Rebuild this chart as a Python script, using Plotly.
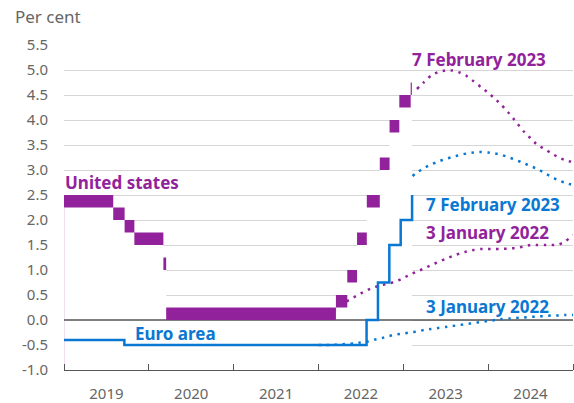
import plotly.graph_objects as go

# ---------------- data ----------------
# US federal funds target range (lower bound; range width 0.25), step changes
us_dates = ["2019-01-01", "2019-08-01", "2019-09-19", "2019-10-31", "2020-03-04",
            "2020-03-16", "2022-03-17", "2022-05-05", "2022-06-16", "2022-07-28",
            "2022-09-22", "2022-11-03", "2022-12-15", "2023-02-02", "2023-02-07"]
us_lower = [2.25, 2.00, 1.75, 1.50, 1.00, 0.00, 0.25, 0.75, 1.50, 2.25,
            3.00, 3.75, 4.25, 4.50, 4.50]
us_width = 0.25

# Euro area deposit rate, step changes
ea_dates = ["2019-01-01", "2019-09-18", "2022-07-27", "2022-09-14", "2022-11-02",
            "2022-12-21", "2023-02-08"]
ea_rate = [-0.40, -0.50, 0.00, 0.75, 1.50, 2.00, 2.50]

# Forward curves 7 February 2023
fwd23_dates = ["2023-03-01", "2023-04-01", "2023-05-01", "2023-06-01", "2023-07-01",
               "2023-08-01", "2023-09-01", "2023-10-01", "2023-11-01", "2023-12-01",
               "2024-01-01", "2024-02-01", "2024-03-01", "2024-04-01", "2024-05-01",
               "2024-06-01", "2024-07-01", "2024-08-01", "2024-09-01", "2024-10-01",
               "2024-11-01", "2024-12-01", "2025-01-01"]
us_fwd23 = [4.62, 4.76, 4.89, 4.96, 4.99, 4.99, 4.95, 4.88, 4.77, 4.66,
            4.55, 4.42, 4.29, 4.13, 3.96, 3.78, 3.64, 3.50, 3.42, 3.33,
            3.25, 3.19, 3.16]
ea_fwd23_dates = ["2023-02-10"] + fwd23_dates
ea_fwd23 = [2.88, 2.95, 3.04, 3.11, 3.17, 3.22, 3.26, 3.30, 3.33, 3.35, 3.36,
            3.35, 3.33, 3.30, 3.25, 3.20, 3.14, 3.08, 3.02, 2.94, 2.86,
            2.79, 2.74, 2.70]

# Forward curves 3 January 2022
fwd22_dates = ["2022-01-01", "2022-02-01", "2022-03-01", "2022-04-01", "2022-05-01",
               "2022-06-01", "2022-07-01", "2022-08-01", "2022-09-01", "2022-10-01",
               "2022-11-01", "2022-12-01", "2023-01-01", "2023-02-01", "2023-03-01",
               "2023-04-01", "2023-05-01", "2023-06-01", "2023-07-01", "2023-08-01",
               "2023-09-01", "2023-10-01", "2023-11-01", "2023-12-01", "2024-01-01",
               "2024-02-01", "2024-03-01", "2024-04-01", "2024-05-01", "2024-06-01",
               "2024-07-01", "2024-08-01", "2024-09-01", "2024-10-01", "2024-11-01",
               "2024-12-01", "2025-01-01"]
us_fwd22 = [0.10, 0.12, 0.17, 0.27, 0.37, 0.45, 0.53, 0.60, 0.66, 0.70,
            0.73, 0.77, 0.84, 0.91, 0.97, 1.03, 1.10, 1.16, 1.22, 1.28,
            1.33, 1.37, 1.40, 1.42, 1.42, 1.42, 1.42, 1.43, 1.44, 1.47,
            1.50, 1.50, 1.50, 1.50, 1.51, 1.58, 1.70]
ea_fwd22 = [-0.50, -0.50, -0.50, -0.49, -0.48, -0.47, -0.45, -0.43, -0.39, -0.36,
            -0.32, -0.29, -0.27, -0.25, -0.23, -0.20, -0.18, -0.16, -0.14, -0.12,
            -0.10, -0.08, -0.06, -0.04, -0.02, 0.00, 0.02, 0.03, 0.04, 0.05,
            0.06, 0.07, 0.08, 0.09, 0.09, 0.10, 0.10]

y_ticks = [-1.0, -0.5, 0.0, 0.5, 1.0, 1.5, 2.0, 2.5, 3.0, 3.5, 4.0, 4.5, 5.0, 5.5]
y_ticktext = ["-1.0", "-0.5", "0.0", "0.5", "1.0", "1.5", "2.0", "2.5", "3.0",
              "3.5", "4.0", "4.5", "5.0", "5.5"]
x_range = ["2019-01-01", "2025-01-01"]

# ---------------- styles ----------------
PURPLE = "#92229b"
BLUE = "#0a78d2"
GREY = "#666666"
FONT = "Noto Sans"
DOT = "2.5px,5.5px"

us_upper = [v + us_width for v in us_lower]
y_min = y_ticks[0]

fig = go.Figure()

# white mask below the US lower bound (hides gridlines as in original)
fig.add_trace(go.Scatter(x=us_dates, y=[y_min] * len(us_dates), mode="lines",
                         line=dict(width=0, shape="hv"), hoverinfo="skip", showlegend=False))
fig.add_trace(go.Scatter(x=us_dates, y=us_lower, mode="lines", fill="tonexty",
                         fillcolor="white", line=dict(width=0, shape="hv"),
                         hoverinfo="skip", showlegend=False))
# faint left edge of the area
fig.add_trace(go.Scatter(x=[us_dates[0], us_dates[0]], y=[y_min, us_lower[0]], mode="lines",
                         line=dict(width=1, color="#e6bde8"), hoverinfo="skip", showlegend=False))
# zero line
fig.add_trace(go.Scatter(x=x_range, y=[0, 0], mode="lines",
                         line=dict(width=1.3, color="#555555"), hoverinfo="skip", showlegend=False))

# forward curves
fig.add_trace(go.Scatter(x=fwd22_dates, y=ea_fwd22, mode="lines",
                         line=dict(color=BLUE, width=2.5, dash=DOT, shape="spline", smoothing=0.5),
                         showlegend=False))
fig.add_trace(go.Scatter(x=fwd22_dates, y=us_fwd22, mode="lines",
                         line=dict(color=PURPLE, width=2.5, dash=DOT, shape="spline", smoothing=0.5),
                         showlegend=False))
fig.add_trace(go.Scatter(x=ea_fwd23_dates, y=ea_fwd23, mode="lines",
                         line=dict(color=BLUE, width=2.5, dash=DOT, shape="spline", smoothing=0.5),
                         showlegend=False))
fig.add_trace(go.Scatter(x=fwd23_dates, y=us_fwd23, mode="lines",
                         line=dict(color=PURPLE, width=2.5, dash=DOT, shape="spline", smoothing=0.5),
                         showlegend=False))

# US target range
fig.add_trace(go.Scatter(x=us_dates, y=us_lower, mode="lines",
                         line=dict(width=0, shape="hv"), hoverinfo="skip", showlegend=False))
fig.add_trace(go.Scatter(x=us_dates, y=us_upper, mode="lines", fill="tonexty",
                         fillcolor=PURPLE, line=dict(width=0, shape="hv"),
                         name="United states", showlegend=False))

# Euro area policy rate
fig.add_trace(go.Scatter(x=ea_dates, y=ea_rate, mode="lines",
                         line=dict(color=BLUE, width=2.5, shape="hv"),
                         name="Euro area", showlegend=False))

# ---------------- layout ----------------
def px_x(px):
    return (px - 64) / 509.0


def px_y(py):
    return (370 - py) / 325.0


labels = [
    ("Per cent", 13, 17, GREY, False, 17),
    ("United states", 63, 182, PURPLE, True, 17),
    ("Euro area", 133, 333, BLUE, True, 17),
    ("7 February 2023", 410, 59, PURPLE, True, 17),
    ("7 February 2023", 424, 204, BLUE, True, 17),
    ("3 January 2022", 424, 232, PURPLE, True, 17),
    ("3 January 2022", 424, 306, BLUE, True, 17),
]
for text, lx, ly, col, bold, size in labels:
    fig.add_annotation(x=px_x(lx), y=px_y(ly), xref="paper", yref="paper",
                       text=("<b>%s</b>" % text) if bold else text, showarrow=False,
                       xanchor="left", yanchor="middle",
                       font=dict(family=FONT, size=size, color=col))

fig.update_layout(
    width=574, height=403,
    margin=dict(l=64, r=1, t=45, b=33, autoexpand=False),
    paper_bgcolor="white", plot_bgcolor="white",
    font=dict(family=FONT, size=15, color=GREY),
    showlegend=False,
    xaxis=dict(type="date", range=x_range, tick0="2019-01-01", dtick="M12",
               ticklabelmode="period", tickformat="%Y", ticks="inside", ticklen=6,
               tickcolor="#555555", tickwidth=1.3, showline=True, linecolor="#555555",
               linewidth=1.3, showgrid=False, zeroline=False, ticklabelstandoff=10,
               automargin=False,
               tickfont=dict(family=FONT, size=15, color=GREY)),
    yaxis=dict(range=[y_ticks[0], y_ticks[-1]], tickvals=y_ticks, ticktext=y_ticktext,
               showgrid=True, gridcolor="#d6d6d6", gridwidth=1.3, zeroline=False,
               showline=False, ticks="", ticklabelstandoff=15, automargin=False,
               tickfont=dict(family=FONT, size=15, color=GREY)),
)

fig.write_html("out.html", config={"displayModeBar": False},
               post_script="document.body.style.margin='0px';"
                           "document.body.style.overflow='hidden';")
